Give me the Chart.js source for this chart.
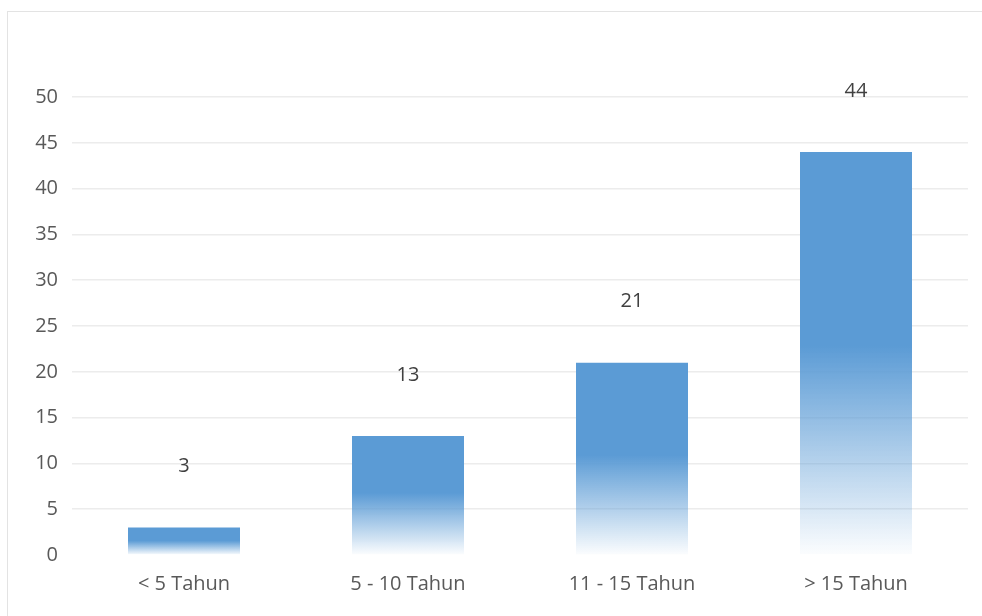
<!DOCTYPE html>
<html>
<head>
  <title>Masa Kerja</title>
  <script src="https://cdn.jsdelivr.net/npm/chart.js"></script>
  <style>
    body {
      margin: 0;
      background: #fff;
      width: 982px;
      height: 616px;
      overflow: hidden;
      position: relative;
    }
    .frame {
      position: absolute;
      left: 7px;
      top: 11px;
      right: -5px;
      bottom: -5px;
      border-top: 1.5px solid #e3e3e3;
      border-left: 1.5px solid #e3e3e3;
    }
    #wrap {
      position: absolute;
      left: 0;
      top: 0;
      width: 982px;
      height: 616px;
    }
  </style>
</head>
<body>

<div class="frame"></div>
<div id="wrap"><canvas id="masaKerja"></canvas></div>

<script>
  const categories = ['< 5 Tahun', '5 - 10 Tahun', '11 - 15 Tahun', '> 15 Tahun'];
  const counts = [3, 13, 21, 44];
  const yTicks = [0, 5, 10, 15, 20, 25, 30, 35, 40, 45, 50];

  const BLUE = '91, 155, 213';
  const FONT = "'Open Sans', 'Noto Sans', sans-serif";

  // bar fill: solid on the upper half, fading out toward the baseline
  function barFill(ctx) {
    const chart = ctx.chart;
    const y = chart.scales.y;
    if (!chart.chartArea || !y || ctx.parsed == null) return 'rgb(' + BLUE + ')';
    const top = y.getPixelForValue(ctx.parsed.y);
    const base = y.getPixelForValue(0);
    if (!isFinite(top) || !isFinite(base) || base - top < 1) return 'rgb(' + BLUE + ')';
    const g = chart.ctx.createLinearGradient(0, top, 0, base);
    g.addColorStop(0, 'rgba(' + BLUE + ', 1)');
    g.addColorStop(0.48, 'rgba(' + BLUE + ', 1)');
    g.addColorStop(1, 'rgba(' + BLUE + ', 0.02)');
    return g;
  }

  // value text floating above each bar
  const valueLabels = {
    id: 'valueLabels',
    afterDatasetsDraw(chart) {
      const c = chart.ctx;
      const meta = chart.getDatasetMeta(0);
      c.save();
      c.font = '20px ' + FONT;
      c.fillStyle = '#404040';
      c.textAlign = 'center';
      c.textBaseline = 'middle';
      meta.data.forEach((bar, i) => {
        c.fillText(String(counts[i]), bar.x, bar.y - 61);
      });
      c.restore();
    }
  };

  new Chart(document.getElementById('masaKerja'), {
    type: 'bar',
    data: {
      labels: categories,
      datasets: [{
        data: counts,
        backgroundColor: barFill,
        borderWidth: 0,
        categoryPercentage: 1,
        barPercentage: 0.5
      }]
    },
    options: {
      responsive: true,
      maintainAspectRatio: false,
      animation: false,
      layout: { padding: { top: 97, right: 14, left: 0, bottom: 0 } },
      plugins: {
        legend: { display: false },
        tooltip: { enabled: false }
      },
      scales: {
        x: {
          grid: { display: false, drawTicks: false },
          border: { display: false },
          ticks: { color: '#595959', font: { family: FONT, size: 20 }, padding: 17 },
          afterFit(scale) { scale.height = 61; }
        },
        y: {
          min: 0,
          max: 50,
          afterBuildTicks(scale) { scale.ticks = yTicks.map(v => ({ value: v })); },
          grid: {
            drawTicks: false,
            color: ctx => (ctx.tick && ctx.tick.value === 0 ? 'rgba(0,0,0,0)' : '#ececec'),
            lineWidth: 1.5
          },
          border: { display: false },
          ticks: { color: '#595959', font: { family: FONT, size: 20 }, padding: 14 },
          afterFit(scale) { scale.width = 72; }
        }
      }
    },
    plugins: [valueLabels]
  });
</script>

</body>
</html>
